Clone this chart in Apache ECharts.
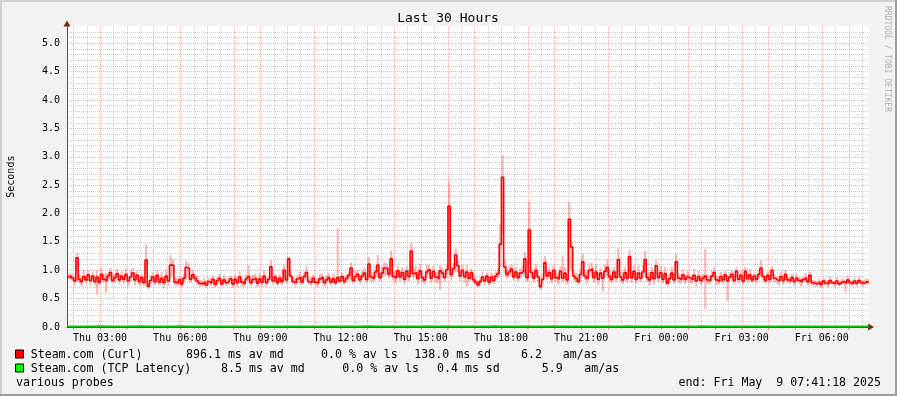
<!DOCTYPE html>
<html><head><meta charset="utf-8">
<script src="https://cdn.jsdelivr.net/npm/echarts@6/dist/echarts.min.js"></script>
<style>html,body{margin:0;padding:0;background:#f2f2f2}#c{width:897px;height:396px}</style>
</head><body><div id="c"></div>
<script>
// ---- data (minutes since Thu 00:00) ----
const startMin = 105.94;
const stepMin = 5;
const spanMin = 1800;
const yMax = 5.3;
const curlMedian = [
0.88,0.90,0.86,0.81,1.22,0.84,0.80,0.89,0.83,0.92,0.82,0.90,
0.80,0.88,0.79,0.93,0.84,0.81,0.90,0.96,0.82,0.87,0.94,0.83,
0.90,0.84,0.93,0.81,0.88,0.95,0.83,0.91,0.80,0.87,0.78,1.18,
0.72,0.82,0.88,0.80,0.91,0.79,0.86,0.78,0.90,0.81,1.09,1.09,
0.79,0.77,0.83,0.76,0.86,1.05,1.03,0.84,0.92,0.86,0.81,0.77,
0.76,0.79,0.74,0.80,0.77,0.84,0.75,0.82,0.86,0.76,0.83,0.78,
0.81,0.85,0.76,0.84,0.78,0.88,0.79,0.76,0.85,0.89,0.78,0.84,
0.86,0.77,0.85,0.79,0.90,0.78,0.84,1.06,0.81,0.88,0.78,0.86,
0.80,1.00,0.83,1.20,0.90,0.80,0.78,0.85,0.88,0.79,0.89,0.96,
0.80,0.78,0.86,0.79,0.77,0.85,0.88,0.78,0.83,0.87,0.79,0.85,
0.78,0.87,0.81,0.89,0.80,0.86,0.91,1.04,0.82,0.89,0.93,0.83,
0.90,0.95,0.84,1.11,0.88,0.85,0.97,1.09,0.87,0.95,1.04,1.04,
0.93,1.20,0.89,0.86,0.99,0.88,0.96,0.84,0.98,0.89,1.34,0.94,
0.96,0.85,0.99,0.87,0.83,0.97,1.01,0.86,0.98,0.88,0.85,0.99,
0.95,0.87,1.01,2.13,0.92,1.03,1.27,1.08,0.90,1.00,0.88,0.97,
0.86,0.96,0.83,0.79,0.74,0.80,0.88,0.81,0.90,0.79,0.88,0.82,
0.90,0.94,1.46,2.64,1.06,0.92,0.97,1.02,0.88,0.97,0.87,0.95,
0.98,1.20,0.87,1.71,0.96,0.86,1.00,0.88,0.71,0.84,1.13,0.90,
0.96,0.85,1.00,0.87,0.84,0.98,0.86,0.95,0.83,1.90,1.41,0.90,
0.86,0.80,0.93,1.15,0.90,0.86,1.00,1.03,0.87,0.97,0.84,0.95,
0.86,0.98,1.05,0.89,0.84,0.97,0.87,1.19,0.88,0.83,0.96,0.86,
1.24,0.87,0.98,0.84,0.95,0.86,0.97,1.19,0.87,0.83,0.96,0.85,
1.08,0.87,0.96,0.84,0.94,0.77,0.85,0.95,0.83,1.15,0.86,0.83,
0.92,0.84,0.88,0.86,0.83,0.91,0.81,0.89,0.82,0.86,0.90,0.83,
0.82,0.90,0.96,0.83,0.80,0.89,0.83,0.92,0.81,0.88,0.93,0.82,
0.98,0.84,0.91,0.81,0.98,0.85,0.92,0.83,0.90,0.84,0.93,1.04,
0.89,0.82,0.91,0.84,1.00,0.86,0.83,0.81,0.89,0.82,0.93,0.83,
0.81,0.87,0.80,0.86,0.82,0.79,0.84,0.87,0.80,0.91,0.78,0.77,
0.76,0.79,0.75,0.81,0.77,0.76,0.82,0.78,0.76,0.81,0.76,0.79,
0.80,0.77,0.83,0.78,0.76,0.81,0.77,0.82,0.78,0.77,0.80,0.79
];
const curlSmokeUp = [
.06,.05,.08,.10,.08,.10,.07,.12,.06,.09,.05,.08,
.07,.12,.08,.10,.09,.14,.06,.08,.11,.07,.09,.10,
.08,.06,.10,.07,.12,.09,.14,.08,.10,.06,.09,.28,
.07,.10,.08,.12,.09,.07,.11,.08,.10,.06,.18,.10,
.08,.09,.07,.11,.08,.12,.10,.07,.09,.08,.10,.06,
.06,.07,.08,.06,.09,.07,.10,.06,.08,.07,.09,.06,
.07,.06,.09,.08,.07,.10,.06,.08,.07,.20,.06,.08,
.08,.07,.09,.06,.10,.08,.07,.12,.09,.06,.08,.07,
.07,.10,.08,.04,.09,.07,.08,.06,.10,.07,.09,.12,
.07,.08,.06,.09,.07,.08,.06,.09,.07,.08,.06,.09,
.08,.87,.09,.07,.10,.08,.07,.10,.06,.09,.07,.08,
.09,.10,.08,.12,.09,.11,.10,.18,.09,.12,.10,.08,
.10,.15,.09,.12,.08,.11,.10,.13,.09,.12,.14,.10,
.11,.09,.12,.10,.08,.13,.09,.11,.10,.08,.12,.10,
.10,.12,.09,.42,.11,.10,.12,.09,.11,.10,.08,.12,
.09,.07,.10,.08,.09,.07,.10,.08,.06,.09,.08,.10,
.08,.10,.35,.39,.12,.09,.10,.08,.11,.09,.10,.08,
.10,.12,.09,.49,.10,.08,.11,.09,.07,.10,.12,.09,
.09,.11,.08,.12,.10,.09,.40,.11,.10,.30,.10,.09,
.10,.08,.11,.14,.09,.12,.10,.11,.09,.13,.10,.09,
.09,.12,.14,.10,.11,.09,.13,.20,.10,.12,.09,.11,
.12,.10,.11,.09,.13,.10,.12,.15,.09,.11,.10,.12,
.10,.09,.11,.08,.12,.10,.09,.11,.10,.14,.09,.08,
.09,.08,.10,.07,.09,.11,.08,.10,.09,.08,.48,.09,
.08,.09,.10,.07,.09,.08,.10,.07,.09,.08,.07,.09,
.07,.08,.09,.06,.08,.07,.10,.08,.06,.09,.08,.14,
.07,.08,.06,.09,.07,.08,.06,.07,.09,.06,.08,.07,
.06,.07,.05,.08,.06,.07,.05,.08,.06,.07,.05,.06,
.05,.06,.07,.05,.06,.05,.07,.06,.05,.07,.06,.05,
.06,.05,.07,.05,.06,.05,.06,.07,.05,.06,.05,.06
];
const curlSmokeDown = [
.05,.06,.04,.08,.30,.06,.09,.05,.07,.04,.08,.06,
.06,.30,.05,.10,.06,.20,.08,.12,.05,.09,.06,.07,
.06,.08,.05,.09,.07,.06,.10,.05,.08,.07,.06,.32,
.05,.07,.09,.06,.08,.05,.07,.10,.06,.08,.24,.20,
.06,.05,.08,.06,.07,.22,.18,.06,.08,.05,.07,.06,
.05,.06,.04,.07,.05,.06,.05,.08,.06,.05,.07,.06,
.06,.05,.07,.06,.08,.05,.07,.06,.05,.08,.06,.07,
.06,.07,.05,.08,.06,.07,.05,.20,.06,.08,.05,.07,
.06,.15,.07,.30,.06,.05,.07,.08,.06,.05,.07,.12,
.05,.06,.08,.05,.07,.06,.05,.07,.08,.06,.05,.07,
.06,.07,.05,.08,.06,.07,.09,.20,.05,.08,.06,.07,
.07,.08,.06,.24,.08,.07,.09,.20,.06,.08,.15,.12,
.08,.30,.07,.09,.10,.08,.07,.09,.10,.08,.40,.09,
.08,.10,.07,.09,.08,.10,.09,.08,.07,.10,.08,.34,
.08,.07,.09,1.10,.10,.08,.30,.12,.09,.08,.10,.26,
.07,.08,.06,.05,.04,.07,.06,.08,.07,.05,.08,.06,
.06,.08,.40,1.00,.12,.07,.08,.10,.06,.08,.07,.09,
.08,.30,.07,.60,.09,.07,.10,.08,.06,.08,.20,.07,
.07,.08,.10,.07,.09,.08,.07,.10,.08,.90,.40,.08,
.08,.06,.09,.25,.08,.10,.07,.12,.09,.08,.10,.07,
.24,.08,.15,.09,.07,.10,.08,.25,.09,.07,.10,.08,
.28,.09,.10,.08,.11,.07,.10,.28,.08,.09,.07,.10,
.18,.08,.10,.07,.09,.06,.08,.10,.07,.22,.09,.07,
.07,.08,.06,.09,.07,.08,.10,.06,.08,.07,.58,.08,
.06,.07,.10,.08,.06,.09,.07,.08,.35,.06,.08,.07,
.10,.07,.08,.06,.12,.07,.08,.06,.09,.07,.08,.15,
.06,.05,.07,.06,.10,.07,.06,.08,.05,.07,.10,.06,
.05,.06,.07,.05,.06,.08,.05,.06,.07,.08,.05,.06,
.05,.04,.06,.05,.04,.06,.05,.04,.06,.05,.04,.05,
.04,.16,.05,.06,.04,.05,.06,.04,.05,.06,.04,.05
];
// TCP latency median, one value per 15 minutes (seconds)
const tcpStepMin = 15;
const tcpMedian = [
0.009,0.008,0.010,0.009,0.012,0.008,0.009,0.011,0.008,0.009,0.013,0.009,
0.008,0.009,0.010,0.008,0.012,0.009,0.008,0.010,0.009,0.011,0.008,0.009,
0.010,0.008,0.009,0.012,0.008,0.009,0.010,0.008,0.011,0.009,0.008,0.009,
0.010,0.008,0.009,0.011,0.008,0.010,0.009,0.008,0.012,0.009,0.008,0.009,
0.011,0.008,0.009,0.010,0.008,0.012,0.009,0.008,0.010,0.009,0.011,0.008,
0.009,0.010,0.008,0.012,0.009,0.008,0.011,0.009,0.008,0.010,0.009,0.008,
0.012,0.009,0.008,0.010,0.009,0.011,0.008,0.009,0.010,0.008,0.009,0.012,
0.008,0.009,0.010,0.008,0.011,0.009,0.008,0.010,0.009,0.008,0.012,0.009,
0.008,0.010,0.009,0.008,0.011,0.009,0.008,0.010,0.009,0.008,0.009,0.011,
0.008,0.009,0.010,0.008,0.009,0.008,0.011,0.009,0.008,0.009,0.010,0.008
];
const xLabelTimes = [180,360,540,720,900,1080,1260,1440,1620,1800];
const xLabels = ['Thu 03:00','Thu 06:00','Thu 09:00','Thu 12:00','Thu 15:00','Thu 18:00','Thu 21:00','Fri 00:00','Fri 03:00','Fri 06:00'];
const legendRows = [
  {name:'Steam.com (Curl)', color:'#ff0000', parts:[['896.1 ms av md',186],['0.0 % av ls',321],['138.0 ms sd',414.3],['6.2',521],['am/as',562.7]]},
  {name:'Steam.com (TCP Latency)', color:'#00ff00', parts:[['8.5 ms av md',221],['0.0 % av ls',342.3],['0.4 ms sd',437],['5.9',541.7],['am/as',584.3]]}
];

// ---- styling ----
const MGRID = 'rgba(222,80,80,0.46)';
const GRID = 'rgba(143,143,143,0.46)';
const MONO = '"DejaVu Sans Mono", monospace';
const xMin = startMin, xMax = startMin + spanMin;

// grid decoration times (every 30 minutes)
const gridTimes = [];
for (let t = Math.ceil(xMin / 30) * 30; t < xMax; t += 30) gridTimes.push([t, t % 60 === 0 ? 1 : 0]);
const hourTicks = gridTimes.filter(g => g[1] === 1).map(g => g[0]);

const curlLine = curlMedian.map((v, i) => [startMin + i * stepMin, v]);
curlLine.push([startMin + curlMedian.length * stepMin, curlMedian[curlMedian.length - 1]]);
const curlSmoke = curlMedian.map((v, i) => [startMin + i * stepMin, v - curlSmokeDown[i], v + curlSmokeUp[i]]);
const tcpLine = tcpMedian.map((v, i) => [startMin + i * tcpStepMin, v]);
tcpLine.push([startMin + tcpMedian.length * tcpStepMin, tcpMedian[tcpMedian.length - 1]]);

const graphics = [
  {type:'rect', shape:{x:0,y:0,width:897,height:2}, style:{fill:'#cfcfcf'}, silent:true},
  {type:'rect', shape:{x:0,y:0,width:2,height:396}, style:{fill:'#cfcfcf'}, silent:true},
  {type:'rect', shape:{x:0,y:394,width:897,height:2}, style:{fill:'#9e9e9e'}, silent:true},
  {type:'rect', shape:{x:895,y:0,width:2,height:396}, style:{fill:'#9e9e9e'}, silent:true},
  {type:'text', x:448, y:19, style:{text:'Last 30 Hours', font:'13px ' + MONO, fill:'#000', align:'center', verticalAlign:'middle'}},
  {type:'text', x:887.5, y:59, rotation:-Math.PI/2, style:{text:'RRDTOOL / TOBI OETIKER', font:'8px ' + MONO, fill:'#b0b0b0', align:'center', verticalAlign:'middle'}},
  {type:'polygon', shape:{points:[[63.5,26.5],[70.5,26.5],[67,20.5]]}, style:{fill:'#7f1f1f'}, silent:true},
  {type:'polygon', shape:{points:[[868,323.5],[868,330.5],[874,327]]}, style:{fill:'#7f1f1f'}, silent:true},
  {type:'text', x:16, y:382.5, style:{text:'various probes', font:'11.6px ' + MONO, fill:'#000', align:'left', verticalAlign:'middle'}},
  {type:'text', x:881, y:382.5, style:{text:'end: Fri May  9 07:41:18 2025', font:'11.6px ' + MONO, fill:'#000', align:'right', verticalAlign:'middle'}}
];
legendRows.forEach((row, r) => {
  const cy = 354.5 + r * 14;
  graphics.push({type:'rect', shape:{x:15.5, y:cy - 4.5, width:8, height:8}, style:{fill:row.color, stroke:'#000', lineWidth:1}, silent:true});
  graphics.push({type:'text', x:30.7, y:cy, style:{text:row.name, font:'11.6px ' + MONO, fill:'#000', align:'left', verticalAlign:'middle'}});
  row.parts.forEach(p => graphics.push({type:'text', x:p[1], y:cy, style:{text:p[0], font:'11.6px ' + MONO, fill:'#000', align:'left', verticalAlign:'middle'}}));
});

const chart = echarts.init(document.getElementById('c'), null, {renderer:'canvas'});
chart.setOption({
  animation:false,
  backgroundColor:'#f2f2f2',
  grid:{left:67, right:28, top:26.3, bottom:69, show:true, backgroundColor:'#ffffff', borderWidth:0, containLabel:false, outerBoundsMode:'none'},
  xAxis:{
    type:'value', min:xMin, max:xMax, z:5,
    axisLine:{show:true, lineStyle:{color:'#4f4f4f', width:1}},
    axisTick:{show:true, customValues:hourTicks, length:3, lineStyle:{color:MGRID}},
    axisLabel:{show:true, customValues:xLabelTimes, margin:6, fontSize:10, fontFamily:MONO, color:'#000',
      formatter: v => { const k = xLabelTimes.indexOf(Math.round(v)); return k >= 0 ? xLabels[k] : ''; }},
    splitLine:{show:false}
  },
  yAxis:{
    type:'value', min:0, max:yMax, interval:0.1,
    name:'Seconds', nameLocation:'middle', nameGap:50.5, nameRotate:90,
    nameTextStyle:{fontSize:10, fontFamily:MONO, color:'#000'},
    axisLine:{show:true, lineStyle:{color:'#4f4f4f', width:1}},
    axisTick:{show:false},
    axisLabel:{margin:7, fontSize:10, fontFamily:MONO, color:'#000', showMaxLabel:false,
      formatter: v => (Math.round(v * 10) % 5 === 0 ? v.toFixed(1) : '')},
    splitLine:{show:true, showMaxLine:false, lineStyle:{color:[MGRID, GRID, GRID, GRID, GRID], type:[1,1], width:1}}
  },
  graphic: graphics,
  series:[
    {type:'custom', z:1, silent:true, data:gridTimes, renderItem:(params, api) => {
      const t = api.value(0), major = api.value(1);
      const a = api.coord([t, 0]), b = api.coord([t, yMax]);
      const x = Math.round(a[0]) + 0.5;
      return {type:'line', shape:{x1:x, y1:a[1] + 2, x2:x, y2:b[1]}, style:{stroke: major ? MGRID : GRID, lineWidth:1, lineDash:[1,1]}};
    }},
    {type:'custom', z:2, silent:true, data:curlSmoke, renderItem:(params, api) => {
      const t = api.value(0), lo = api.value(1), hi = api.value(2);
      const a = api.coord([t, lo]), b = api.coord([t + stepMin, hi]);
      return {type:'rect', shape:{x:a[0], y:b[1], width:b[0] - a[0], height:Math.max(1, a[1] - b[1])}, style:{fill:'rgba(255,0,0,0.28)'}};
    }},
    {type:'line', z:3, data:curlLine, step:'end', symbol:'none', silent:true, lineStyle:{color:'#ff0000', width:1.6}},
    {type:'line', z:3, data:tcpLine, step:'end', symbol:'none', silent:true, lineStyle:{color:'#00cc00', width:2}}
  ]
});
</script></body></html>
